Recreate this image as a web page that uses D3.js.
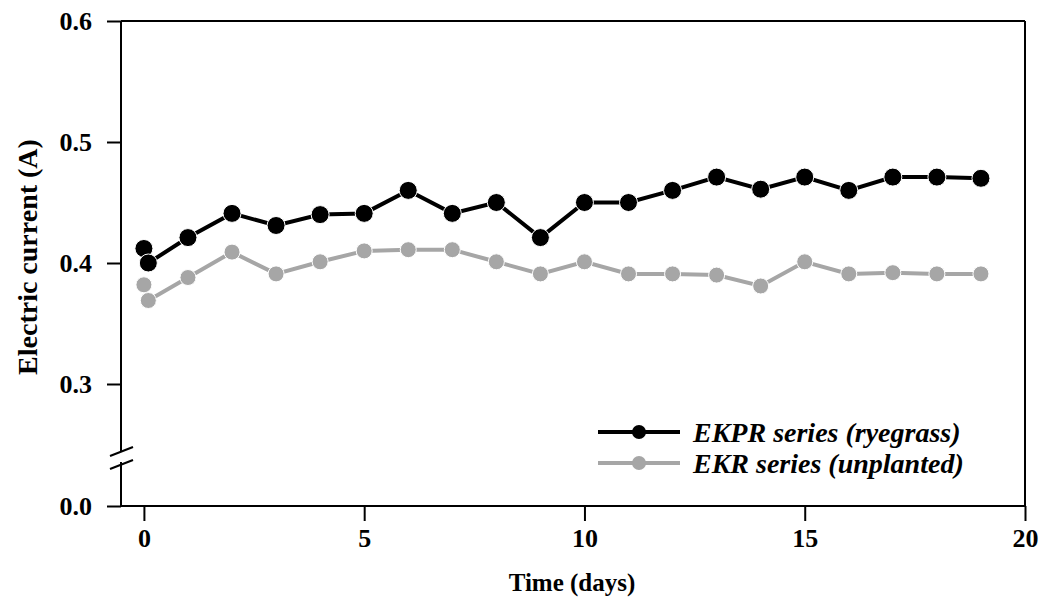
<!DOCTYPE html>
<html>
<head>
<meta charset="utf-8">
<script src="https://cdn.jsdelivr.net/npm/d3@7"></script>
<style>
  body { margin: 0; background: #fff; }
  svg text { font-family: 'Liberation Serif', 'Times New Roman', serif; font-weight: bold; }
</style>
</head>
<body>
<div id="chart"></div>
<script>
// time points (days); first day has two readings
const days = [0, 0.1, 1, 2, 3, 4, 5, 6, 7, 8, 9, 10, 11, 12, 13, 14, 15, 16, 17, 18, 19];
const ekprCurrent = [0.412, 0.400, 0.421, 0.441, 0.431, 0.440, 0.441, 0.460, 0.441, 0.450, 0.421,
    0.450, 0.450, 0.460, 0.471, 0.461, 0.471, 0.460, 0.471, 0.471, 0.470];
const ekrCurrent = [0.382, 0.369, 0.388, 0.409, 0.391, 0.401, 0.410, 0.411, 0.411, 0.401, 0.391,
    0.401, 0.391, 0.391, 0.390, 0.381, 0.401, 0.391, 0.392, 0.391, 0.391];
const xTicks = [0, 5, 10, 15, 20];
const yTicksUpper = [0.3, 0.4, 0.5, 0.6];
const yTicksLower = [0.0];
const seriesNames = ['EKPR series (ryegrass)', 'EKR series (unplanted)'];

const width = 1043, height = 605;
const plot = { left: 121, right: 1025, top: 21, bottom: 506 };
const breakTop = 451, breakBottom = 466;
const colors = { ekpr: '#000000', ekr: '#a6a6a6', axis: '#000000' };

const svg = d3.select('#chart').append('svg')
    .attr('width', width)
    .attr('height', height);

// Scales
const x = d3.scaleLinear()
    .domain([-0.52, 20])
    .range([plot.left, plot.right]);

const y = d3.scaleLinear()
    .domain([0.3, 0.6])
    .range([384, plot.top]);

const yLow = d3.scaleLinear()
    .domain([0, 0.03])
    .range([plot.bottom, breakBottom]);

// Frame lines
const frame = svg.append('g').attr('stroke', colors.axis).attr('stroke-width', 2);
frame.append('line').attr('x1', plot.left).attr('x2', plot.right).attr('y1', plot.top).attr('y2', plot.top);
frame.append('line').attr('x1', plot.right).attr('x2', plot.right).attr('y1', plot.top).attr('y2', plot.bottom);
frame.append('line').attr('x1', plot.left).attr('x2', plot.right).attr('y1', plot.bottom).attr('y2', plot.bottom);
frame.append('line').attr('x1', plot.left).attr('x2', plot.left).attr('y1', plot.top).attr('y2', breakTop);
frame.append('line').attr('x1', plot.left).attr('x2', plot.left).attr('y1', breakBottom - 4).attr('y2', plot.bottom);

// Axis break marks
frame.append('line').attr('x1', 110).attr('x2', 133).attr('y1', breakTop + 5).attr('y2', breakTop - 4);
frame.append('line').attr('x1', 110).attr('x2', 133).attr('y1', breakBottom + 3).attr('y2', breakBottom - 6);

const styleAxis = g => {
    g.select('.domain').remove();
    g.selectAll('line').attr('stroke', colors.axis).attr('stroke-width', 2);
    g.selectAll('text')
        .attr('fill', '#000')
        .style('font-size', '26px')
        .style('font-weight', 'bold');
};

// X axis
svg.append('g')
    .attr('transform', `translate(0,${plot.bottom})`)
    .call(d3.axisBottom(x).tickValues(xTicks).tickSize(15).tickPadding(8).tickFormat(d3.format('d')))
    .call(styleAxis);

// Y axis (upper + lower segment)
svg.append('g')
    .attr('transform', `translate(${plot.left},0)`)
    .call(d3.axisLeft(y).tickValues(yTicksUpper).tickSize(14).tickPadding(15).tickFormat(d3.format('.1f')))
    .call(styleAxis);

svg.append('g')
    .attr('transform', `translate(${plot.left},0)`)
    .call(d3.axisLeft(yLow).tickValues(yTicksLower).tickSize(14).tickPadding(15).tickFormat(d3.format('.1f')))
    .call(styleAxis);

// Axis titles
svg.append('text')
    .attr('x', 572)
    .attr('y', 591)
    .attr('text-anchor', 'middle')
    .style('font-size', '25px')
    .text('Time (days)');

svg.append('text')
    .attr('transform', `translate(37,257) rotate(-90)`)
    .attr('text-anchor', 'middle')
    .style('font-size', '28px')
    .text('Electric current (A)');

// Series
const series = [
    { name: seriesNames[1], values: ekrCurrent, color: colors.ekr, r: 8 },
    { name: seriesNames[0], values: ekprCurrent, color: colors.ekpr, r: 9 }
];

const line = d3.line()
    .x((d, i) => x(days[i]))
    .y(d => y(d));

series.forEach(s => {
    svg.append('path')
        .datum(s.values)
        .attr('fill', 'none')
        .attr('stroke', s.color)
        .attr('stroke-width', 4)
        .attr('d', line);

    svg.append('g')
        .selectAll('circle')
        .data(s.values)
        .enter()
        .append('circle')
        .attr('cx', (d, i) => x(days[i]))
        .attr('cy', d => y(d))
        .attr('r', s.r)
        .attr('fill', s.color)
        .attr('stroke', '#fff')
        .attr('stroke-width', 1);
});

// Legend
const legend = svg.append('g');
[{ name: seriesNames[0], color: colors.ekpr }, { name: seriesNames[1], color: colors.ekr }].forEach((s, i) => {
    const ly = 432 + i * 31;
    legend.append('line')
        .attr('x1', 598).attr('x2', 680)
        .attr('y1', ly).attr('y2', ly)
        .attr('stroke', s.color)
        .attr('stroke-width', 4);
    legend.append('circle')
        .attr('cx', 639).attr('cy', ly)
        .attr('r', 7)
        .attr('fill', s.color);
    legend.append('text')
        .attr('x', 693)
        .attr('y', ly + 10)
        .style('font-size', '28px')
        .style('font-style', 'italic')
        .text(s.name);
});
</script>
</body>
</html>
